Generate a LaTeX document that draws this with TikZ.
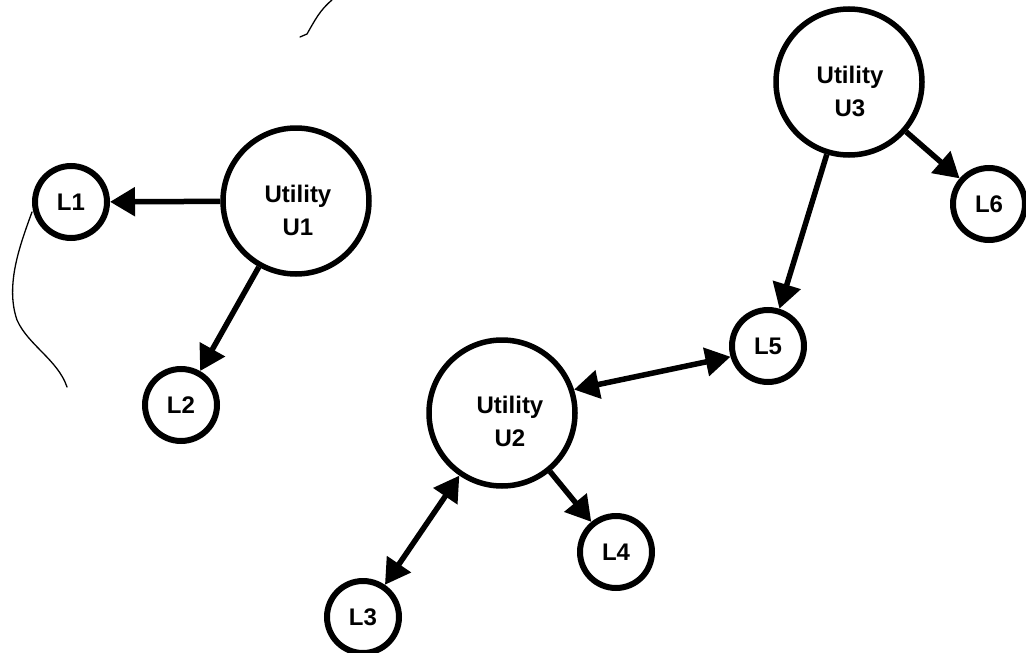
\documentclass[tikz,border=0pt]{standalone}
\usepackage{fontspec}
\setmainfont{Liberation Sans}
\usetikzlibrary{arrows.meta}
\begin{document}
\begin{tikzpicture}[x=1pt,y=-1pt,
  big/.style={circle,draw,line width=5.5pt,minimum size=146pt,inner sep=0pt},
  small/.style={circle,draw,line width=6pt,minimum size=72pt,inner sep=0pt,font=\fontsize{24}{28}\selectfont\bfseries},
  lab/.style={font=\fontsize{24}{33}\selectfont\bfseries,align=center},
  conn/.style={line width=5.5pt,-{Triangle[length=25pt,width=28pt]}},
  conntwo/.style={line width=5.5pt,{Triangle[length=25pt,width=28pt]}-{Triangle[length=25pt,width=28pt]}},
  stray/.style={line width=1.3pt,line cap=round}]
\fill[white] (0,0) rectangle (1026,653);
\useasboundingbox (0,0) rectangle (1026,653);

\node[big] (U1) at (296,201) {};
\node[big] (U2) at (502,413) {};
\node[big] (U3) at (849,82) {};
\node[lab] (U1t) at (298,210) {Utility\\U1};
\node[lab] (U2t) at (510,421) {Utility\\U2};
\node[lab] (U3t) at (850,91) {Utility\\U3};

\node[small] (L1) at (71,202) {L1};
\node[small] (L2) at (181,405) {L2};
\node[small] (L3) at (363,617) {L3};
\node[small] (L4) at (616,552) {L4};
\node[small] (L5) at (768,346) {L5};
\node[small] (L6) at (989,204) {L6};

\draw[conn] (U1) -- (L1);
\draw[conn] (U1) -- (L2);
\draw[conn] (U3) -- (L5);
\draw[conn] (U3) -- (L6);
\draw[conn] (U2) -- (L4);
\draw[conntwo] (U2.18) -- (L5.196);
\draw[conntwo] (U2) -- (L3);

\coordinate (s1) at (32,212);
\coordinate (s2) at (67,387);
\draw[stray] (s1) .. controls (20,245) and (5,285) .. (17,320)
  .. controls (28,345) and (58,360) .. (s2);
\coordinate (t1) at (300,37);
\coordinate (t2) at (332,0);
\draw[stray] (t1) -- (307,34) .. controls (315,20) and (320,10) .. (t2);
\end{tikzpicture}
\end{document}
